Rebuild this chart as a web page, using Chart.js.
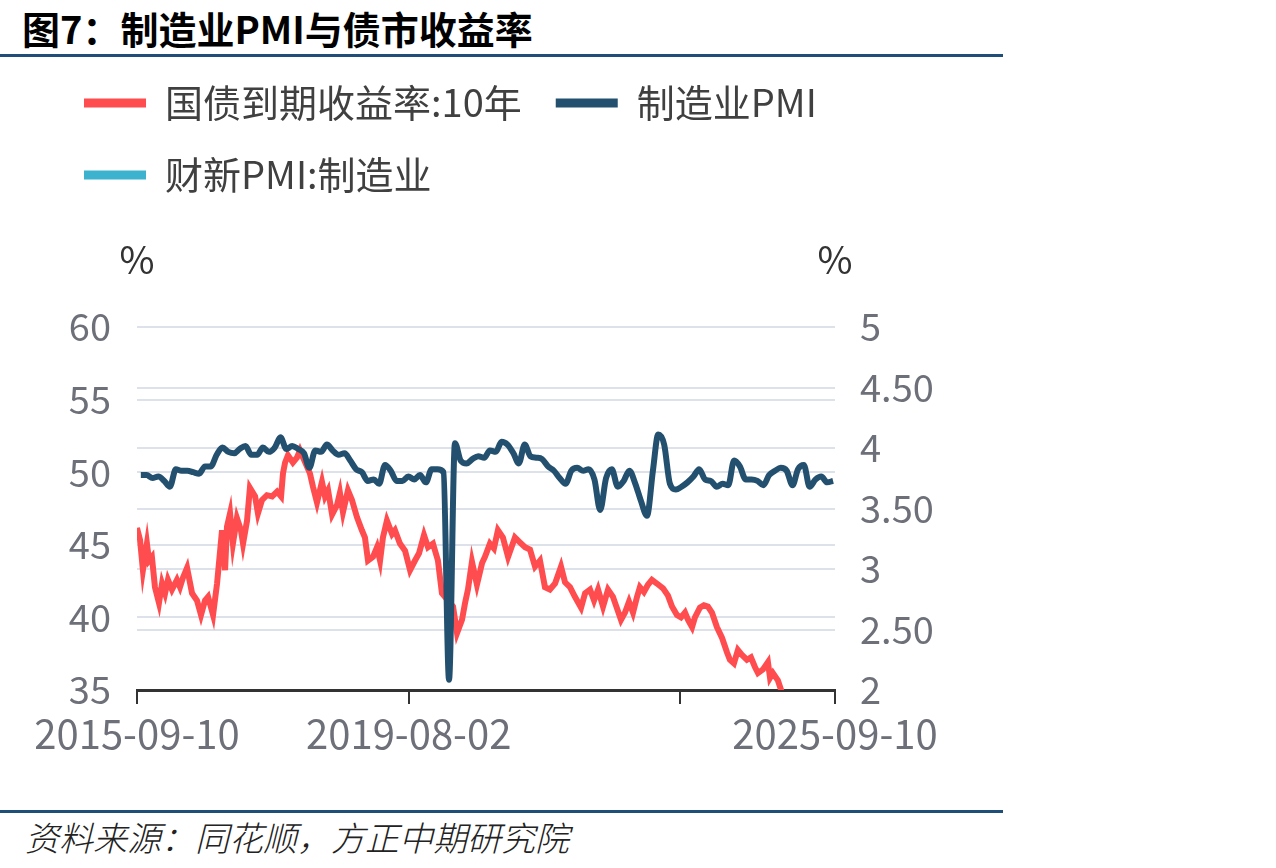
<!DOCTYPE html>
<html>
<head>
<meta charset="utf-8">
<script src="https://cdn.jsdelivr.net/npm/chart.js@4/dist/chart.umd.min.js"></script>
<style>
  html, body { margin: 0; padding: 0; background: #fff; }
  body { width: 1276px; height: 868px; position: relative; overflow: hidden; font-family: 'Noto Sans CJK SC', sans-serif; }
  #title { position: absolute; left: 22px; top: 0px; font-size: 38px; font-weight: 700; color: #000; white-space: nowrap; }
  .rule { position: absolute; left: 0; width: 1003px; height: 3px; background: #1f4e79; }
  #source { position: absolute; left: 25px; top: 812px; font-size: 34px; font-weight: 300; font-style: italic; color: #222; white-space: nowrap; }
  #wrap { position: absolute; left: 0; top: 50px; width: 1010px; height: 750px; }
</style>
</head>
<body>
<div id="title">图7：制造业PMI与债市收益率</div>
<div class="rule" style="top:54px"></div>
<div id="wrap"><canvas id="chart"></canvas></div>
<div class="rule" style="top:810px"></div>
<div id="source">资料来源：同花顺，方正中期研究院</div>
<script>
// 国债到期收益率:10年 (%)
const yieldDates = [
  '2015-09-10','2015-09-26','2015-10-11','2015-11-01','2015-11-12','2015-11-27','2015-12-13',
  '2016-01-03','2016-01-19','2016-02-04','2016-02-19','2016-03-11','2016-04-06','2016-04-22',
  '2016-05-08','2016-05-29','2016-06-24','2016-07-20','2016-08-10','2016-08-31','2016-09-16',
  '2016-10-12','2016-11-02','2016-11-28','2016-12-14','2016-12-24','2017-01-09','2017-01-24',
  '2017-02-14','2017-03-07','2017-03-18','2017-04-08','2017-04-23','2017-05-20','2017-06-04',
  '2017-06-25','2017-07-21','2017-08-17','2017-09-12','2017-10-03','2017-10-13','2017-10-24',
  '2017-11-08','2017-12-04','2017-12-25','2018-01-10','2018-01-26','2018-03-03','2018-03-19',
  '2018-04-09','2018-05-05','2018-05-21','2018-06-06','2018-06-27','2018-07-23','2018-08-07',
  '2018-08-23','2018-09-18','2018-10-09','2018-11-04','2018-11-30','2018-12-16','2019-01-01',
  '2019-01-27','2019-02-17','2019-03-05','2019-03-20','2019-04-10','2019-05-07','2019-05-22',
  '2019-06-17','2019-07-14','2019-08-09','2019-09-04','2019-09-25','2019-10-21','2019-11-11',
  '2019-12-07','2020-01-02','2020-01-23','2020-03-21','2020-04-11','2020-05-07','2020-05-23',
  '2020-06-07','2020-06-28','2020-07-24','2020-08-20','2020-09-04','2020-09-30','2020-10-21',
  '2020-11-11','2020-12-07','2021-01-03','2021-02-08','2021-03-06','2021-04-02','2021-04-28',
  '2021-05-24','2021-06-19','2021-07-15','2021-08-10','2021-09-06','2021-10-07','2021-10-28',
  '2021-11-23','2021-12-19','2022-01-20','2022-02-10','2022-03-08','2022-03-29','2022-04-19',
  '2022-05-15','2022-06-10','2022-07-06','2022-07-17','2022-08-17','2022-09-07','2022-09-28',
  '2022-10-19','2022-11-09','2022-11-24','2022-12-15','2023-01-05','2023-01-26','2023-02-21',
  '2023-03-25','2023-04-20','2023-05-11','2023-06-06','2023-06-27','2023-07-18','2023-08-03',
  '2023-08-24','2023-09-08','2023-10-04','2023-10-25','2023-11-15','2023-12-06','2024-01-01',
  '2024-01-28','2024-02-23','2024-03-09','2024-03-30','2024-04-20','2024-05-11','2024-06-06',
  '2024-06-27','2024-07-18','2024-08-03','2024-08-29','2024-09-24','2024-10-05','2024-10-20',
  '2024-11-15','2024-12-06','2024-12-31','2025-01-20','2025-03-15','2025-05-10','2025-07-15',
  '2025-09-10'
];
const yieldValues = [
  3.34, 3.24, 2.99, 3.21, 3.07, 3.10, 2.85,
  2.72, 2.88, 2.80, 2.91, 2.83, 2.91, 2.85,
  2.93, 3.01, 2.80, 2.74, 2.62, 2.74, 2.77,
  2.62, 2.88, 3.32, 2.99, 3.35, 3.46, 3.21,
  3.42, 3.32, 3.21, 3.40, 3.67, 3.60, 3.46,
  3.57, 3.61, 3.60, 3.64, 3.60, 3.79, 3.88,
  3.94, 3.88, 3.92, 3.98, 3.92, 3.79, 3.68,
  3.55, 3.72, 3.60, 3.65, 3.45, 3.53, 3.63,
  3.47, 3.65, 3.57, 3.43, 3.32, 3.26, 3.07,
  3.10, 3.18, 3.07, 3.26, 3.40, 3.29, 3.32,
  3.21, 3.15, 2.99, 3.07, 3.13, 3.28, 3.18,
  3.21, 3.07, 2.80, 2.69, 2.47, 2.58, 2.72,
  2.83, 3.06, 2.87, 3.05, 3.10, 3.21, 3.17,
  3.32, 3.26, 3.10, 3.26, 3.22, 3.18, 3.16,
  3.02, 3.07, 2.85, 2.83, 2.88, 3.02, 2.89,
  2.85, 2.77, 2.68, 2.80, 2.83, 2.74, 2.83,
  2.69, 2.83, 2.77, 2.72, 2.58, 2.64, 2.73,
  2.64, 2.77, 2.85, 2.81, 2.87, 2.91, 2.88,
  2.84, 2.78, 2.69, 2.62, 2.60, 2.64, 2.58,
  2.52, 2.60, 2.68, 2.70, 2.69, 2.64, 2.52,
  2.43, 2.31, 2.25, 2.22, 2.33, 2.29, 2.25,
  2.27, 2.19, 2.14, 2.17, 2.23, 2.10, 2.14,
  2.08, 1.98, 1.68, 1.65, 1.85, 1.65, 1.68,
  1.80
];

// 制造业PMI, monthly
const pmiMonths = [
  '2015-09','2015-10','2015-11','2015-12',
  '2016-01','2016-02','2016-03','2016-04','2016-05','2016-06','2016-07','2016-08','2016-09','2016-10','2016-11','2016-12',
  '2017-01','2017-02','2017-03','2017-04','2017-05','2017-06','2017-07','2017-08','2017-09','2017-10','2017-11','2017-12',
  '2018-01','2018-02','2018-03','2018-04','2018-05','2018-06','2018-07','2018-08','2018-09','2018-10','2018-11','2018-12',
  '2019-01','2019-02','2019-03','2019-04','2019-05','2019-06','2019-07','2019-08','2019-09','2019-10','2019-11','2019-12',
  '2020-01','2020-02','2020-03','2020-04','2020-05','2020-06','2020-07','2020-08','2020-09','2020-10','2020-11','2020-12',
  '2021-01','2021-02','2021-03','2021-04','2021-05','2021-06','2021-07','2021-08','2021-09','2021-10','2021-11','2021-12',
  '2022-01','2022-02','2022-03','2022-04','2022-05','2022-06','2022-07','2022-08','2022-09','2022-10','2022-11','2022-12',
  '2023-01','2023-02','2023-03','2023-04','2023-05','2023-06','2023-07','2023-08','2023-09','2023-10','2023-11','2023-12',
  '2024-01','2024-02','2024-03','2024-04','2024-05','2024-06','2024-07','2024-08','2024-09','2024-10','2024-11','2024-12',
  '2025-01','2025-02','2025-03','2025-04','2025-05','2025-06','2025-07','2025-08'
];
const pmiValues = [
  49.8, 49.8, 49.6, 49.7,
  49.4, 49.0, 50.2, 50.1, 50.1, 50.0, 49.9, 50.4, 50.4, 51.2, 51.7, 51.4,
  51.3, 51.6, 51.8, 51.2, 51.2, 51.7, 51.4, 51.7, 52.4, 51.6, 51.8, 51.6,
  51.3, 50.3, 51.5, 51.4, 51.9, 51.5, 51.2, 51.3, 50.8, 50.2, 50.0, 49.4,
  49.5, 49.2, 50.5, 50.1, 49.4, 49.4, 49.7, 49.5, 49.8, 49.3, 50.2, 50.2,
  50.0, 35.7, 52.0, 50.8, 50.6, 50.9, 51.1, 51.0, 51.5, 51.4, 52.1, 51.9,
  51.3, 50.6, 51.9, 51.1, 51.0, 50.9, 50.4, 50.1, 49.6, 49.2, 50.1, 50.3,
  50.1, 50.2, 49.5, 47.4, 49.6, 50.2, 49.0, 49.4, 50.1, 49.2, 48.0, 47.0,
  50.1, 52.6, 51.9, 49.2, 48.8, 49.0, 49.3, 49.7, 50.2, 49.5, 49.4, 49.0,
  49.2, 49.1, 50.8, 50.4, 49.5, 49.5, 49.4, 49.1, 49.8, 50.1, 50.3, 50.1,
  49.1, 50.2, 50.5, 49.0, 49.5, 49.7, 49.3, 49.4
];

// 财新PMI:制造业 - listed in the legend, no line shown
const caixinValues = [];

const seriesNames = ['国债到期收益率:10年', '制造业PMI', '财新PMI:制造业'];
const seriesColors = ['#ff4d4f', '#24506f', '#3cb2cf'];

const xTickDates = ['2015-09-10', '2019-08-02', '2023-06-24', '2025-09-10'];
const xTickLabels = ['2015-09-10', '2019-08-02', '', '2025-09-10'];

const FONT = "'Noto Sans CJK SC', 'Noto Sans', sans-serif";
const TICK_COLOR = '#6e7079';
const GRID_COLOR = '#dde1ea';

function ts(d) { return Date.parse(d + 'T00:00:00Z'); }
function monthEnd(m) {
  const [y, mo] = m.split('-').map(Number);
  return Date.UTC(y, mo, 0);
}

const yieldPoints = yieldDates.map((d, i) => ({ x: ts(d), y: yieldValues[i] }));
const pmiPoints = pmiMonths.map((m, i) => ({ x: monthEnd(m), y: pmiValues[i] }));

// push the plot down below the legend
const legendGap = {
  id: 'legendGap',
  beforeInit(chart) {
    const fit = chart.legend.fit;
    chart.legend.fit = function () {
      fit.call(this);
      this.height += 123;
    };
  }
};

// "%" unit over each y axis
const unitLabels = {
  id: 'unitLabels',
  afterDraw(chart) {
    const { ctx, chartArea, scales } = chart;
    ctx.save();
    ctx.font = '38px ' + FONT;
    ctx.fillStyle = '#333';
    ctx.textAlign = 'center';
    ctx.textBaseline = 'middle';
    ctx.fillText('%', scales.y.right, chartArea.top - 67);
    ctx.fillText('%', scales.y1.left, chartArea.top - 67);
    ctx.restore();
  }
};

new Chart(document.getElementById('chart'), {
  type: 'line',
  data: {
    datasets: [{
      label: seriesNames[0],
      data: yieldPoints,
      yAxisID: 'y1',
      borderColor: seriesColors[0],
      backgroundColor: seriesColors[0],
      borderWidth: 6,
      pointRadius: 0,
      tension: 0,
      order: 1
    }, {
      label: seriesNames[1],
      data: pmiPoints,
      yAxisID: 'y',
      borderColor: seriesColors[1],
      backgroundColor: seriesColors[1],
      borderWidth: 6,
      pointRadius: 0,
      cubicInterpolationMode: 'monotone',
      order: 0
    }, {
      label: seriesNames[2],
      data: caixinValues,
      yAxisID: 'y',
      borderColor: seriesColors[2],
      backgroundColor: seriesColors[2],
      borderWidth: 6,
      pointRadius: 0,
      order: 2
    }]
  },
  options: {
    responsive: true,
    maintainAspectRatio: false,
    animation: false,
    parsing: false,
    layout: { padding: { left: 50, right: 0, top: 0, bottom: 36 } },
    plugins: {
      tooltip: { enabled: false },
      legend: {
        position: 'top',
        align: 'start',
        labels: {
          boxWidth: 62,
          boxHeight: 9,
          padding: 34,
          color: '#404040',
          font: { size: 38, family: FONT },
          sort: (a, b) => a.datasetIndex - b.datasetIndex,
          generateLabels(chart) {
            return Chart.defaults.plugins.legend.labels.generateLabels(chart).map(item => {
              item.lineWidth = 0;
              item.fillStyle = item.strokeStyle;
              return item;
            });
          }
        }
      }
    },
    scales: {
      x: {
        type: 'linear',
        min: ts('2015-09-10'),
        max: ts('2025-09-10'),
        afterBuildTicks(scale) {
          scale.ticks = xTickDates.map(d => ({ value: ts(d) }));
        },
        ticks: {
          autoSkip: false,
          maxRotation: 0,
          padding: 6,
          color: TICK_COLOR,
          font: { size: 40, family: FONT },
          callback: (v, i) => xTickLabels[i]
        },
        grid: { drawOnChartArea: false, drawTicks: true, tickLength: 14, color: '#333', lineWidth: 2 },
        border: { display: true, color: '#333', width: 3 }
      },
      y: {
        position: 'left',
        min: 35,
        max: 60,
        afterFit(scale) { scale.width = 87; },
        ticks: { stepSize: 5, padding: 26, color: TICK_COLOR, font: { size: 38, family: FONT } },
        grid: { color: GRID_COLOR, lineWidth: 2, drawTicks: false },
        border: { display: false }
      },
      y1: {
        position: 'right',
        min: 2,
        max: 5,
        afterFit(scale) { scale.width = 175; },
        ticks: {
          stepSize: 0.5,
          padding: 25,
          color: TICK_COLOR,
          font: { size: 38, family: FONT },
          callback: v => Number.isInteger(v) ? String(v) : v.toFixed(2)
        },
        grid: { color: GRID_COLOR, lineWidth: 2, drawTicks: false },
        border: { display: false }
      }
    }
  },
  plugins: [legendGap, unitLabels]
});
</script>
</body>
</html>
